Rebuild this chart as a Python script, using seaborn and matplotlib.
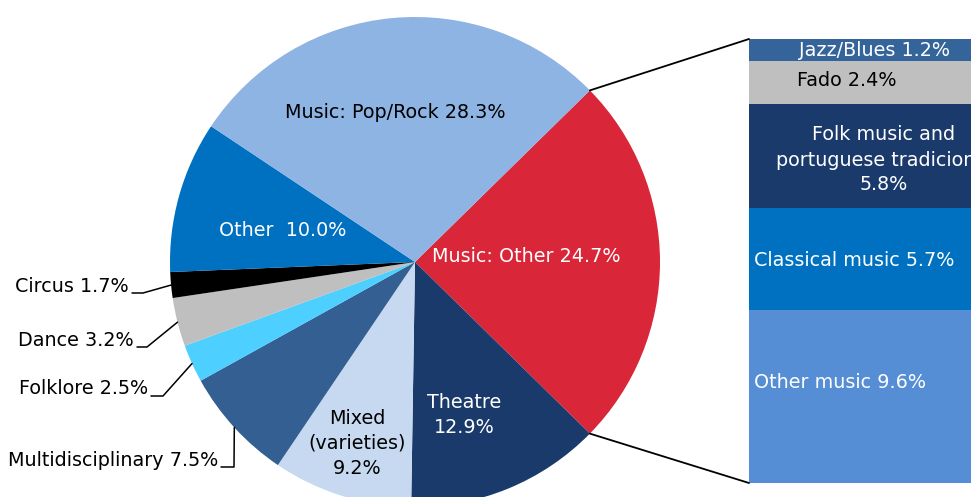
import numpy as np
import matplotlib
matplotlib.use("Agg")
import matplotlib.pyplot as plt
import seaborn as sns

# pie data (clockwise from the "Music: Other" wedge)
pie_labels = ["Music: Other", "Theatre", "Mixed (varieties)", "Multidisciplinary",
              "Folklore", "Dance", "Circus", "Other", "Music: Pop/Rock"]
pie_values = [24.7, 12.9, 9.2, 7.5, 2.5, 3.2, 1.7, 10.0, 28.3]
pie_colors = ["#D92638", "#1A3A6C", "#C6D9F1", "#335F92", "#4DCFFF",
              "#BFBFBF", "#000000", "#0070C0", "#8EB4E3"]

# breakdown of "Music: Other" (top to bottom)
bar_labels = ["Jazz/Blues", "Fado", "Folk music and\nportuguese tradicional",
              "Classical music", "Other music"]
bar_values = [1.2, 2.4, 5.8, 5.7, 9.6]
bar_colors = ["#35649A", "#BFBFBF", "#1A3A6C", "#0070C0", "#558ED5"]

sns.set_theme(style="white")
plt.rcParams["font.family"] = ["DejaVu Sans"]
FS = 13.8

W, H = 971, 497
fig = plt.figure(figsize=(W / 100, H / 100), dpi=100)
ax = fig.add_axes([0, 0, 1, 1])

cx, cy, R = 415, H - 262, 245
start = pie_values[0] * 3.6 / 2
wedges, _ = ax.pie(pie_values, colors=pie_colors, startangle=start, counterclock=False,
                   center=(cx, cy), radius=R, frame=True,
                   wedgeprops=dict(linewidth=0))

# stacked bar for the music breakdown
bar_left, bar_w = 749, 250
bar_bottom, bar_top = H - 483, H - 39
scale = (bar_top - bar_bottom) / sum(bar_values)
tops = bar_top - np.cumsum([0] + bar_values[:-1]) * scale
heights = np.array(bar_values) * scale
ax.bar([bar_left] * len(bar_values), heights, width=bar_w, bottom=tops - heights,
       align="edge", color=bar_colors, linewidth=0)

# connector lines from the Music: Other wedge to the bar
a = np.deg2rad(start)
ax.plot([cx + R * np.cos(a), bar_left], [cy + R * np.sin(a), bar_top], color="black", lw=1.3)
ax.plot([cx + R * np.cos(-a), bar_left], [cy + R * np.sin(-a), bar_bottom], color="black", lw=1.3)

ax.set_xlim(0, W)
ax.set_ylim(0, H)
ax.set_aspect("equal")
ax.axis("off")

def txt(x, y, s, color="black", ha="center"):
    ax.text(x, H - y, s, color=color, ha=ha, va="center", fontsize=FS, linespacing=1.4)

# labels inside the pie
txt(395, 112, f"Music: Pop/Rock {pie_values[8]}%")
txt(526, 256, f"Music: Other {pie_values[0]}%", "white")
txt(464, 415, f"Theatre\n{pie_values[1]}%", "white")
txt(357, 443, f"Mixed\n(varieties)\n{pie_values[2]}%")
txt(283, 231, f"Other  {pie_values[7]}%", "white")

# outside labels with leader lines
ends = np.cumsum([0] + pie_values)
outside = {3: (221, 467, 234, 467), 4: (151, 396, 163, 396),
           5: (137, 347, 147, 347), 6: (132, 293, 143, 293)}
for i, (tx, ty, ex, ey) in outside.items():
    mid = np.deg2rad(start - (ends[i] + pie_values[i] / 2) * 3.6)
    px, py = cx + R * np.cos(mid), cy + R * np.sin(mid)
    ax.plot([px, ex, tx], [py, H - ey, H - ty], color="black", lw=1.1)
    txt(tx - 3, ty - 7, f"{pie_labels[i]} {pie_values[i]}%", ha="right")

# bar labels
txt(874, 50, f"{bar_labels[0]} {bar_values[0]}%", "white")
txt(797, 80, f"{bar_labels[1]} {bar_values[1]}%", ha="left")
txt(884, 160, f"{bar_labels[2]}\n{bar_values[2]}%", "white")
txt(754, 260, f"{bar_labels[3]} {bar_values[3]}%", "white", ha="left")
txt(754, 383, f"{bar_labels[4]} {bar_values[4]}%", "white", ha="left")

fig.savefig("out.png", dpi=100)
